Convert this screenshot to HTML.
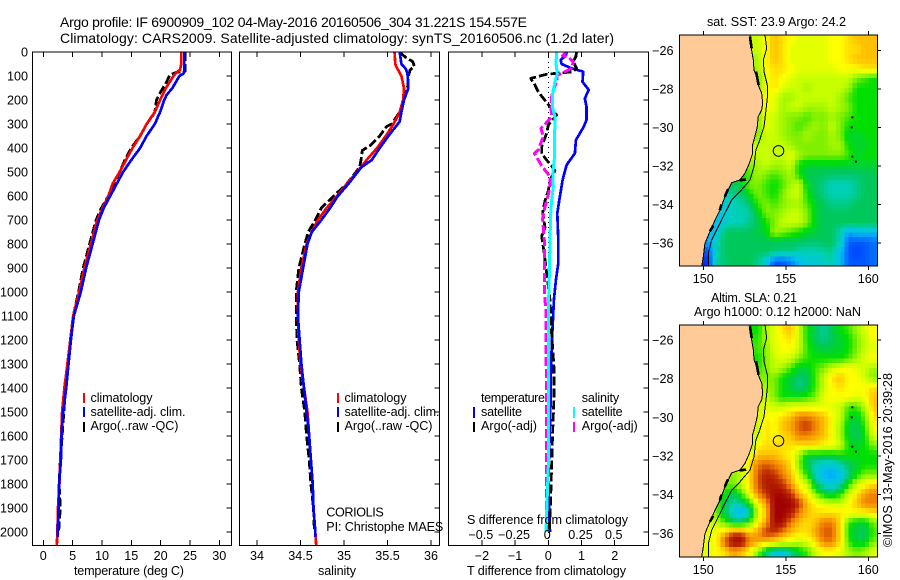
<!DOCTYPE html>
<html>
<head>
<meta charset="utf-8">
<title>Argo profile</title>
<style>
html,body{margin:0;padding:0;background:#fff;width:900px;height:580px;overflow:hidden}
svg{display:block}
text{font-family:"Liberation Sans",sans-serif;font-size:12.6px;fill:#000}
.ttl{font-size:14px}
.line{fill:none;shape-rendering:crispEdges;stroke-linejoin:round}
</style>
</head>
<body>
<svg id="chart" xmlns="http://www.w3.org/2000/svg" width="900" height="580" viewBox="0 0 900 580">
<defs>
<clipPath id="clip-temp"><rect x="32.5" y="52" width="199" height="493.5"/></clipPath>
<clipPath id="clip-sal"><rect x="239.5" y="52" width="200" height="493.5"/></clipPath>
<clipPath id="clip-diff"><rect x="448.5" y="52" width="200" height="493.5"/></clipPath>
<clipPath id="clip-map-a"><rect x="679.5" y="35" width="198" height="231"/></clipPath>
<clipPath id="clip-map-b"><rect x="679.5" y="325" width="198" height="232"/></clipPath>
</defs>
<text class="ttl" x="60" y="27" textLength="467">Argo profile: IF 6900909_102 04-May-2016 20160506_304 31.221S 154.557E</text>
<text class="ttl" x="60" y="43" textLength="554">Climatology: CARS2009. Satellite-adjusted climatology: synTS_20160506.nc (1.2d later)</text>

<g id="panel-temp"></g>
<g id="panel-sal"></g>
<g id="panel-diff"></g>
<g id="map-a"></g>
<g id="map-b"></g>

<text x="129" y="575" text-anchor="middle" textLength="110">temperature (deg C)</text>
<text x="337" y="575" text-anchor="middle" textLength="38">salinity</text>
<text x="546.5" y="575" text-anchor="middle" textLength="159">T difference from climatology</text>
<text x="547.5" y="524" text-anchor="middle" textLength="161">S difference from climatology</text>

<g>
<rect x="83" y="393" width="2" height="10" fill="#ff0000"/>
<rect x="83" y="407" width="2" height="10" fill="#0000ff"/>
<rect x="83" y="422" width="2" height="10" fill="#000"/>
<text x="90.5" y="402" textLength="62">climatology</text>
<text x="90.5" y="416" textLength="95">satellite-adj. clim.</text>
<text x="90.5" y="430" textLength="88">Argo(..raw -QC)</text>
</g>
<g>
<rect x="337" y="393" width="2" height="10" fill="#ff0000"/>
<rect x="337" y="407" width="2" height="10" fill="#0000ff"/>
<rect x="337" y="422" width="2" height="10" fill="#000"/>
<text x="344.5" y="402" textLength="62">climatology</text>
<text x="344.5" y="416" textLength="95">satellite-adj. clim.</text>
<text x="344.5" y="430" textLength="88">Argo(..raw -QC)</text>
</g>
<text x="326.3" y="516.7" textLength="57.5">CORIOLIS</text>
<text x="326.3" y="531" textLength="117">PI: Christophe MAES</text>

<g>
<text x="481" y="402" textLength="64">temperature</text>
<text x="481" y="416" textLength="41">satellite</text>
<text x="481" y="430" textLength="56">Argo(-adj)</text>
<rect x="473" y="407" width="2" height="11" fill="#0000ff"/>
<rect x="473" y="422" width="2" height="10" fill="#000"/>
<text x="581.7" y="402" textLength="37.5">salinity</text>
<text x="581.7" y="416" textLength="41">satellite</text>
<text x="581.7" y="430" textLength="56">Argo(-adj)</text>
<rect x="573" y="407" width="2" height="11" fill="#00ffff"/>
<rect x="573" y="422" width="2" height="10" fill="#ff00ff"/>
</g>

<text x="707" y="26" textLength="139">sat. SST: 23.9 Argo: 24.2</text>
<text x="711" y="302" textLength="86">Altim. SLA: 0.21</text>
<text x="694" y="316" textLength="167">Argo h1000: 0.12 h2000: NaN</text>
<text transform="translate(892 547) rotate(-90)" textLength="174">©IMOS 13-May-2016 20:39:28</text>
</svg>
<script>
// ---------- profile data ----------
const tempTicks = [0, 5, 10, 15, 20, 25, 30];
const salTicks = [34, 34.5, 35, 35.5, 36];
const tDiffTicks = [-2, -1, 0, 1, 2];
const sDiffTicks = [-0.5, -0.25, 0, 0.25, 0.5];
const depthTicks = [0,100,200,300,400,500,600,700,800,900,1000,1100,1200,1300,1400,1500,1600,1700,1800,1900,2000];
const lonTicks = [150, 155, 160];
const latTicks = [-26, -28, -30, -32, -34, -36];

const tempClimDepth = [0,50,75,85,100,150,200,250,300,350,400,450,500,550,600,650,700,800,900,1000,1100,1200,1300,1400,1500,1600,1700,1800,1900,2000,2055];
const tempClim = [23.5,23.5,23.3,22.7,22.2,20.9,19.9,19.0,17.6,16.5,15.2,14.1,13.0,11.8,11.1,10.1,9.2,8.1,7.0,6.1,5.1,4.6,4.1,3.6,3.2,3.05,2.9,2.75,2.5,2.4,2.3];
const tempSatDepth = [0,80,90,100,150,180,200,250,300,350,400,450,500,550,600,650,700,800,900,1000,1100,1200,1300,1400,1500,1600,1700,1800,1900,2000,2020];
const tempSat = [24,24,23.9,23.2,22,21,20.6,19.9,19,17.6,16.5,15,13.6,12.5,11.4,10.3,9.5,8.4,7.3,6.4,5.2,4.7,4.3,3.9,3.4,3.1,3.0,2.7,2.6,2.45,2.45];
const tempArgoDepth = [0,80,85,95,130,170,200,250,270,300,350,400,450,500,550,600,650,700,800,900,1000,1100,1200,1300,1400,1500,1600,1700,1800,1900,2000];
const tempArgo = [24.2,24.2,22.7,21.6,20.9,19.9,19.3,19,18.5,17.6,16.5,15,13.9,13,12,11.1,9.9,9.0,7.9,6.8,6.0,5.1,4.6,4.3,3.8,3.5,3.2,2.9,2.7,2.9,2.6];

const salClimDepth = [0,50,60,100,150,200,250,300,350,400,450,500,550,600,650,700,750,800,900,1000,1100,1200,1300,1400,1500,1600,1700,1800,1900,2000,2055];
const salClim = [35.58,35.59,35.6,35.66,35.69,35.68,35.64,35.57,35.48,35.38,35.26,35.15,35.03,34.92,34.8,34.7,34.63,34.57,34.51,34.47,34.47,34.48,34.5,34.54,34.58,34.6,34.62,34.64,34.65,34.67,34.68];
const salSatDepth = [0,50,70,90,150,200,250,290,350,400,450,480,550,600,650,700,750,800,900,1000,1100,1200,1300,1400,1500,1600,1700,1800,1900,2000,2020];
const salSat = [35.64,35.66,35.71,35.73,35.74,35.69,35.66,35.64,35.51,35.41,35.32,35.2,35.05,34.93,34.84,34.74,34.63,34.58,34.53,34.48,34.47,34.49,34.51,34.54,34.57,34.6,34.62,34.64,34.65,34.67,34.67];
const salArgoDepth = [0,20,40,60,75,100,150,200,250,300,310,350,390,410,440,480,550,600,650,700,750,800,900,1000,1100,1200,1300,1400,1500,1600,1700,1800,1900,2000];
const salArgo = [35.64,35.7,35.79,35.81,35.76,35.74,35.73,35.68,35.64,35.55,35.49,35.41,35.3,35.21,35.2,35.18,35.03,34.88,34.74,34.67,34.59,34.55,34.48,34.45,34.45,34.46,34.49,34.51,34.55,34.57,34.6,34.62,34.65,34.66];

const tDiffSatDepth = [1,15,33,50,68,82,124,158,193,228,283,311,367,422,471,533,617,672,783,881,950,1033,1171,1311,1450,1546,1783,1921,2000];
const tDiffSat = [0.55,0.53,0.37,0.4,0.7,1.05,1.03,1.22,1.1,1.15,1.15,1.07,0.83,0.8,0.55,0.43,0.33,0.27,0.3,0.3,0.23,0.17,0.12,0.08,0.07,0.05,0,0.03,0.05];
const tDiffArgoDepth = [1,19,40,68,82,93,110,138,166,193,228,263,304,339,394,422,450,474,495,533,579,620,669,731,767,833,1033,1171,1311,1450,1589,1726,1866,2000];
const tDiffArgo = [0.85,0.83,0.75,0.85,0.75,-0.05,-0.53,-0.4,-0.3,-0.15,0.05,0.25,0,-0.05,-0.2,-0.2,-0.05,0.1,0.2,0.05,0,-0.1,-0.17,-0.1,-0.2,-0.13,0.05,0.1,0.17,0.17,0.13,0.1,0.07,0.03];
const sDiffSatDepth = [1,47,89,124,172,228,269,311,367,422,464,506,561,617,672,783,922,1075,1171,1450,1726,1921,2000];
const sDiffSat = [0.063,0.058,0.068,0.05,0.033,0.03,0.05,0.05,0.045,0.048,0.043,0.033,0.038,0.025,0.018,0.013,0.008,0,0,0,0,-0.012,-0.018];
const sDiffArgoDepth = [1,15,22,40,68,89,96,124,158,186,228,269,297,318,353,408,422,474,519,554,595,644,694,783,922,1000,1075,1171,1450,1726,1866,2000];
const sDiffArgo = [0.133,0.108,0.15,0.188,0.176,0.1,0.068,0.063,0.038,0.025,0.02,0.025,-0.018,-0.055,-0.038,-0.075,-0.105,-0.05,0.013,0.013,0,-0.025,-0.043,-0.03,-0.03,-0.03,-0.018,-0.018,-0.013,-0.013,-0.013,-0.013];

// ---------- map data: 24 x 24 colour-level grids, west to east, north to south ----------
const sstGrid = [
[8,8,8,8,8,8,8,8,8,8,9,10,9.5,9,8.5,8.5,8.5,8.5,9,9,9.5,10,10,10],
[8,8,8,8,8,8,8,8,8,8,9,10,9.5,8.5,8.5,8.5,8.5,8.5,9,9,9.5,9.5,10,10],
[7.5,7.5,7.5,7.5,7.5,7.5,7.5,7.5,7.5,7.5,9,10,9.5,8.5,8.5,8.5,8.5,8.5,9,9,9.5,10,10,10],
[7.5,7.5,7.5,7.5,7.5,7.5,7.5,7.5,7.5,7.5,9,9.5,9.5,9,8.5,8.5,8.5,8.5,8.5,9,9,9,9.5,9.5],
[7,7,7,7,7,7,7,7,7,7,8.5,9.5,9,8.5,8,8,8,8,8,8,8,7,6.5,6],
[7,7,7,7,7,7,7,7,7,7,8.5,9.5,8.5,8,8,7.5,8,8,8,8,7.5,6,6,6],
[8,8,8,8,8,8,8,8,8,8,9,8.5,7.5,7.5,8,8,8,8,8,7.5,6.5,6,6,6],
[8,8,8,8,8,8,8,8,8,8,9,8.5,7.5,8,8,7.5,7.5,7.5,8,7.5,7,6,6,6],
[7,7,7,7,7,7,7,7,7,7,8.5,8,7.5,7,7,6.5,7,7,7.5,7,6.5,6,6,6],
[7,7,7,7,7,7,7,7,7,7,8.5,8,7.5,7,6.5,7,7.5,7,8,7,6,6,6,6],
[7,7,7,7,7,7,7,7,7,7,8,8,7.5,7,7,7.5,7,7,7.5,7,5.5,5.5,5.8,6],
[8,8,8,8,8,8,8,8,8,8,8,8,8,7.5,7,7,7,7,7.5,7.5,6,5.5,5.5,6],
[8,8,8,8,8,8,8,8,8,8,8,8,8,8.5,7.5,7,7,7,7,7,6.5,5.5,6,6],
[7,7,7,7,7,7,7,7,7,7.5,8,7.5,7.5,8,6,5.5,5.5,5.5,5.5,5.5,5.5,5.5,5.5,5.5],
[6,6,6,6,6,6,6,6,6.5,7.5,7,6.5,7,7.5,6,5,5,5,4.8,4.8,4.8,4.8,5,5],
[5,5,5,5,5,5,5,5.5,7,7,6.5,6,6.5,7.5,8,5.5,5,4.5,4,4,4,4.5,5,5],
[4,4,4,4,4,4,4.5,4.8,6,7,6.5,6,7,8,8,6,5,4.5,4,4,4,4.5,5,5],
[3.5,3.5,3.5,3.5,3.5,3.5,4,4.2,4.8,6.5,7,6.5,7,7.5,7.5,6.5,5.5,5,4.5,4.5,4.5,5,5,5],
[3,3,3,3,3,3.5,4,4,4.2,5.5,7,7,7.5,8,8,7,5.5,5,5,5,5,5,5,5],
[3,3,3,3,3,3.8,4,4,4.5,5,6,7,8,8,8,7,5.5,5,5,5,5,5,5,5],
[3,3,3,3,3,5,5,5,5,5.3,5.5,7.5,7,6.5,6,5.5,5.3,5,5,4,2.5,3,3,3],
[2.5,2.5,2.5,2.5,4,5,5,5,5,5,5,5,5,5,5,4.8,4.8,5,5,4,1.5,1.5,1.5,1.8],
[1.5,1.5,1.5,1.5,4,5,5,5,5,5,5,4.8,4.5,4.5,4,4,4,4.2,4.5,3,1.5,1.2,1.5,1.8],
[1,1,1,1,4.3,4.8,5,5,5,4.5,3.5,1.5,1.5,2,3,3.5,3.5,3.8,4,3,1.5,1.5,1.5,1.8]
];
const slaGrid = [
[6,6,6,6,6,6,6,6,6,6,7.5,8.5,9.5,10,8,6,5,4.3,5,6,6.5,7.5,8.5,9],
[6.3,6.3,6.3,6.3,6.3,6.3,6.3,6.3,6.3,6.3,7.5,8.5,9,9.5,8,6,5,4.5,5,5.5,6,7,8,9],
[6.5,6.5,6.5,6.5,6.5,6.5,6.5,6.5,6.5,6.5,7,8.5,9,9,8,6.3,5.5,5.2,5.3,5.5,6,7,8,8.5],
[6,6,6,6,6,6,6,6,6,6,7,8,8.5,8,7,6.3,6,6,6,6,6.5,7.5,8.5,9],
[6.3,6.3,6.3,6.3,6.3,6.3,6.3,6.3,6.3,6.3,7,8,7.5,6.5,5.5,5.5,6.5,7,8,8.5,9,8.5,8,7.5],
[7,7,7,7,7,7,7,7,7,7,7,7,6,5.3,4.7,5,6.5,8,9.5,10,9,9,8,7],
[8,8,8,8,8,8,8,8,8,8,7.5,7,6,5.2,4.5,5.2,6.5,8,9,9.5,9,9,9,9.5],
[8,8,8,8,8,8,8,8,8,8,8,7,6,6,6,6.3,7,8.5,9,9,9,8.5,9,10],
[8,8,8,8,8,8,8,8,8,8,8.5,8,8,8.5,8.5,8.5,8.5,8.5,8.5,8,6.5,6.5,8,10],
[8,8,8,8,8,8,8,8,8,8,9,9,9.5,10,11,11,10.5,10,9,8,6,5.5,7,9.5],
[8,8,8,8,8,8,8,8,8,8,9.5,9,10,10.5,11.5,12,11,10,9,7.5,5.5,5,6.5,9],
[8,8,8,8,8,8,8,8,8,8,9.5,9,9.5,10,11,11,10.5,10,9,7.5,5.5,5,6,8.5],
[7,7,7,7,7,7,7,7,7,9,9.5,9.5,9.5,9.5,9.5,9.5,9.5,9,9,8,6,5.5,6,7],
[7,7,7,7,7,7,7,7,8.5,10,10,10,9.5,9,7.5,5.5,5.5,5.5,5.5,6,6,6,6,6],
[7.5,7.5,7.5,7.5,7.5,7.5,7.5,8,9.5,11,11.5,11,10.5,9.5,7,5,4,3.5,3.5,4,5,5.5,6,6],
[7,7,7,7,7,7,7,8,9.5,11.5,12.3,12,11,10,8,6,3.8,2.8,2.5,3,4.5,6,7,7],
[7,7,7,7,7,7,7,8,9.5,11.5,12.5,12.5,12,10.5,9,8,5,3.8,3.2,4,6,8,9,9.5],
[6,6,6,6,6,6,5,6.5,9,11,12,12.8,12.8,12,10,9,7,5.5,5,6,8,9.5,10.5,11],
[7,7,7,7,7,5,4,4.5,6,9,10.5,13,13,13,12,10,9,8.5,8,8,9,10,11,11],
[7,7,7,7,7,5,3.5,2.5,4,8,10,13,13,12.5,11,10,9.5,9.5,9.5,9.5,9,9,9,9.5],
[8,8,8,8,8,6.5,5,5,6.5,9,10.5,12.8,12.8,11,10,9.5,10,11,11,9.5,6.5,5.5,5.5,7],
[8.5,8.5,8.5,8.5,9,10,11.5,11.5,10,10.5,12,12,11,10,9.5,9.5,10.5,11.5,11.5,9.5,6,5,5,6.5],
[8.5,8.5,8.5,8.5,9,11.5,13,13,11,10.5,10,9.5,9,8.5,8,8.5,9.5,11,11,9.5,6.5,5.3,5.5,7],
[8.5,8.5,8.5,8.5,9,9.5,10.5,10,9,7,5,3.5,3,4.5,5.5,6.5,8,9,9,8.5,7.5,7,7.5,8.5]
];
const coastLon = [152.83,152.83,152.93,153.03,153.07,153.23,153.33,153.54,153.6,153.54,153.33,153.27,153.13,152.99,152.99,152.79,152.53,152.22,151.72,151.31,151.01,150.71,150.4,150.1,150,149.9];
const coastLat = [-25.2,-25.64,-25.98,-26.5,-27.02,-27.37,-27.8,-28.23,-28.75,-29.1,-29.44,-29.96,-30.48,-30.91,-31.35,-31.87,-32.38,-32.73,-32.87,-33.6,-34.29,-34.81,-35.41,-36.02,-36.71,-37.2];
const isobathLon = [153.74,153.84,153.64,153.68,153.88,153.88,153.8,153.68,153.39,153.19,153.07,152.83,152.22,151.72,151.31,150.91,150.51,150.3,150.3];
const isobathLat = [-25.2,-25.9,-26.5,-27.11,-27.8,-28.49,-29.1,-29.96,-30.74,-31.17,-32.04,-32.73,-33.34,-33.77,-34.46,-35.15,-35.84,-36.54,-37.2];
const roughCoastLon = [[152.83,152.93],[153.2,153.35],[152.2,152.6],[151.3,151.5],[150.4,150.6],[151.0,151.1]];
const roughCoastLat = [[-25.3,-25.9],[-27.1,-27.8],[-32.75,-32.7],[-33.6,-33.2],[-35.4,-35.1],[-34.3,-34.0]];
const islandLon = [159.03,159.0,159.03,159.25];
const islandLat = [-29.48,-30.0,-31.52,-31.78];
const floatLon = [154.557];
const floatLat = [-31.221];

// ---------- axis functions ----------
const depthY = function(d){ return 52 + 0.24 * d; };
const tempX = function(t){ return 43.3 + 5.867 * t; };
const salX = function(s){ return 257 + 87 * (s - 34); };
const tDiffX = function(t){ return 548.3 + 33.2 * t; };
const sDiffX = function(s){ return 548.3 + 132.8 * s; };
const lonX = function(lon){ return 703.3 + 16.5 * (lon - 150); };
const latYA = function(lat){ return 50.3 + 19.27 * (-26 - lat); };
const latYB = function(lat){ return 340 + 19.33 * (-26 - lat); };

const NS = 'http://www.w3.org/2000/svg';
function make(tag, attrs, parent){
  const n = document.createElementNS(NS, tag);
  for (const k in attrs) n.setAttribute(k, attrs[k]);
  parent.appendChild(n);
  return n;
}
function fmtNeg(v){ return String(v).replace('-', '\u2212'); }

function frame(parent, x, y, w, h){
  const r = make('rect', {x:x, y:y, width:w, height:h, fill:'none', stroke:'#000', 'stroke-width':1, 'shape-rendering':'crispEdges'}, parent);
  
  
}
function tick(parent, x1, y1, x2, y2){
  const t = make('line', {x1:x1, y1:y1, x2:x2, y2:y2, stroke:'#000', 'stroke-width':1, 'shape-rendering':'crispEdges'}, parent);
  
  
}
function label(parent, x, y, anchor, str){
  const t = make('text', {x:x, y:y, 'text-anchor':anchor}, parent);
  t.textContent = str;
  
  
}
function series(parent, clip, xs, ys, xFn, color, width, dash, name){
  const pts = xs.map(function(v, i){ return xFn(v).toFixed(1) + ',' + depthY(ys[i]).toFixed(1); }).join(' ');
  const p = make('polyline', {points:pts, class:'line', stroke:color, 'stroke-width':width, 'clip-path':'url(#' + clip + ')'}, parent);
  if (dash) p.setAttribute('stroke-dasharray', dash);
  
  
}
function profileAxes(parent, x0, x1, ticks, xFn, fmt, showDepth){
  depthTicks.forEach(function(d){
    tick(parent, x1 - 5, depthY(d), x1, depthY(d));
    if (showDepth) label(parent, 28, depthY(d) + 4.5, 'end', String(d));
  });
  ticks.forEach(function(v){
    tick(parent, xFn(v), 52, xFn(v), 57);
    tick(parent, xFn(v), 540, xFn(v), 545.5);
    label(parent, xFn(v), 560, 'middle', fmt(v));
  });
  frame(parent, x0, 52, x1 - x0, 493.5);
}

// ---------- temperature panel ----------
const pTemp = document.getElementById('panel-temp');
series(pTemp, 'clip-temp', tempArgo, tempArgoDepth, tempX, '#000', 2.8, '9 3', 'temperature-argo-line');
series(pTemp, 'clip-temp', tempClim, tempClimDepth, tempX, '#ff0000', 2.7, '', 'temperature-climatology-line');
series(pTemp, 'clip-temp', tempSat, tempSatDepth, tempX, '#0000ff', 2.7, '', 'temperature-satellite-line');
profileAxes(pTemp, 32.5, 231.5, tempTicks, tempX, String, true);

// ---------- salinity panel ----------
const pSal = document.getElementById('panel-sal');
series(pSal, 'clip-sal', salArgo, salArgoDepth, salX, '#000', 2.8, '9 3', 'salinity-argo-line');
series(pSal, 'clip-sal', salClim, salClimDepth, salX, '#ff0000', 2.7, '', 'salinity-climatology-line');
series(pSal, 'clip-sal', salSat, salSatDepth, salX, '#0000ff', 2.7, '', 'salinity-satellite-line');
profileAxes(pSal, 239.5, 439.5, salTicks, salX, String, false);

// ---------- difference panel ----------
const pDiff = document.getElementById('panel-diff');
const zeroLine = make('line', {x1:tDiffX(0), y1:52, x2:tDiffX(0), y2:545, stroke:'#000', 'stroke-width':1, 'stroke-dasharray':'1 4', 'shape-rendering':'crispEdges'}, pDiff);


series(pDiff, 'clip-diff', tDiffSat, tDiffSatDepth, tDiffX, '#0000ff', 2.7, '', 't-difference-satellite-line');
series(pDiff, 'clip-diff', tDiffArgo, tDiffArgoDepth, tDiffX, '#000', 2.8, '9 3', 't-difference-argo-line');
series(pDiff, 'clip-diff', sDiffArgo, sDiffArgoDepth, sDiffX, '#ff00ff', 3, '9 3', 's-difference-argo-line');
series(pDiff, 'clip-diff', sDiffSat, sDiffSatDepth, sDiffX, '#00ffff', 3, '', 's-difference-satellite-line');
profileAxes(pDiff, 448.5, 648.5, tDiffTicks, tDiffX, fmtNeg, false);
sDiffTicks.forEach(function(v){
  label(pDiff, sDiffX(v) - 1, 539, 'middle', fmtNeg(v));
});

// ---------- maps ----------
const levelStops = [[0,0,144],[0,48,255],[0,128,255],[0,192,240],[0,208,184],[0,200,90],[0,224,0],[128,240,0],[200,255,0],[255,255,0],[255,192,0],[240,128,0],[192,48,0],[160,0,0]];
function levelColor(v){
  const c = Math.max(0, Math.min(13, v));
  const i = Math.min(12, Math.floor(c));
  const f = c - i;
  const a = levelStops[i], b = levelStops[i + 1];
  return 'rgb(' + Math.round(a[0] + (b[0] - a[0]) * f) + ',' + Math.round(a[1] + (b[1] - a[1]) * f) + ',' + Math.round(a[2] + (b[2] - a[2]) * f) + ')';
}
function gridValue(grid, col, row){
  const c = Math.max(0, Math.min(23, col));
  const r = Math.max(0, Math.min(23, row));
  const c0 = Math.floor(c), r0 = Math.floor(r);
  const c1 = Math.min(23, c0 + 1), r1 = Math.min(23, r0 + 1);
  const fx = c - c0, fy = r - r0;
  return (grid[r0][c0] * (1 - fx) + grid[r0][c1] * fx) * (1 - fy) + (grid[r1][c0] * (1 - fx) + grid[r1][c1] * fx) * fy;
}
const lonStart = 148.55, latStart = -25.2;
function drawMap(parent, grid, yFn, clipId, y0, y1, xLabelY, cellName){
  const cells = make('g', {'clip-path':'url(#' + clipId + ')'}, parent);
  
  
  for (let j = 0; j < 48; j++){
    for (let i = 0; i < 48; i++){
      const v = gridValue(grid, (i - 0.5) / 2, (j - 0.5) / 2);
      const xa = lonX(lonStart + i * 0.25), ya = yFn(latStart - j * 0.25);
      const xb = lonX(lonStart + (i + 1) * 0.25), yb = yFn(latStart - (j + 1) * 0.25);
      const cell = make('rect', {x:xa.toFixed(2), y:ya.toFixed(2), width:(xb - xa + 0.6).toFixed(2), height:(yb - ya + 0.6).toFixed(2), fill:levelColor(v), 'shape-rendering':'crispEdges'}, cells);
      
      
    }
  }
  const overlay = make('g', {'clip-path':'url(#' + clipId + ')'}, parent);
  
  
  const coastPts = coastLon.map(function(lon, i){ return lonX(lon).toFixed(1) + ',' + yFn(coastLat[i]).toFixed(1); });
  const land = make('polygon', {points:lonX(lonStart) + ',' + yFn(latStart) + ' ' + coastPts.join(' ') + ' ' + lonX(lonStart) + ',' + yFn(-37.2), fill:'#fdca98', stroke:'none'}, overlay);
  
  
  const coast = make('polyline', {points:coastPts.join(' '), fill:'none', stroke:'#000', 'stroke-width':1, 'shape-rendering':'crispEdges'}, overlay);
  
  
  roughCoastLon.forEach(function(seg, k){
    const rough = make('line', {x1:lonX(seg[0]), y1:yFn(roughCoastLat[k][0]), x2:lonX(seg[1]), y2:yFn(roughCoastLat[k][1]), stroke:'#000', 'stroke-width':2.6, 'shape-rendering':'crispEdges'}, overlay);
    
    
  });
  const iso = make('polyline', {points:isobathLon.map(function(lon, i){ return lonX(lon).toFixed(1) + ',' + yFn(isobathLat[i]).toFixed(1); }).join(' '), fill:'none', stroke:'#000', 'stroke-width':1, 'shape-rendering':'crispEdges'}, overlay);
  
  
  islandLon.forEach(function(lon, k){
    const isl = make('rect', {x:lonX(lon) - 1, y:yFn(islandLat[k]) - 1, width:2, height:2, fill:'#000'}, overlay);
    
    
  });
  floatLon.forEach(function(lon, k){
    const circ = make('circle', {cx:lonX(lon), cy:yFn(floatLat[k]), r:5.3, fill:'none', stroke:'#000', 'stroke-width':1}, overlay);
    
    
  });
  lonTicks.forEach(function(lon){
    tick(parent, lonX(lon), y0 - 4, lonX(lon), y0);
    tick(parent, lonX(lon), y1, lonX(lon), y1 + 4);
    label(parent, lonX(lon), xLabelY, 'middle', String(lon));
  });
  latTicks.forEach(function(lat){
    tick(parent, 877.5, yFn(lat), 881, yFn(lat));
    label(parent, 673.5, yFn(lat) + 4.5, 'end', fmtNeg(lat));
  });
  frame(parent, 679.5, y0, 198, y1 - y0);
}
drawMap(document.getElementById('map-a'), sstGrid, latYA, 'clip-map-a', 35, 266, 283, 'sst-cell');
drawMap(document.getElementById('map-b'), slaGrid, latYB, 'clip-map-b', 325, 557, 574, 'sla-cell');
</script>
</body>
</html>
